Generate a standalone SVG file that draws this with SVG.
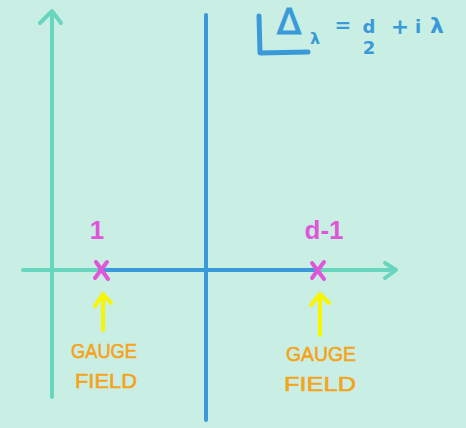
<svg xmlns="http://www.w3.org/2000/svg" width="466" height="428" viewBox="0 0 466 428">
<style>
.ax{stroke:#68d5bd;stroke-width:4;fill:none;stroke-linecap:round;stroke-linejoin:round}
.bl{stroke:#3a9ad9;stroke-width:4;fill:none;stroke-linecap:round}
.mx{stroke:#e056d8;stroke-width:4;fill:none;stroke-linecap:round}
.yl{stroke:#f7f500;stroke-width:4;fill:none;stroke-linecap:round;stroke-linejoin:round}
.lab{font-family:"Liberation Sans",Arial,sans-serif;fill:#f5a31a;font-size:21px;text-anchor:middle;stroke:#f5a31a;stroke-width:0.6}
.mg{font-family:"Liberation Sans",Arial,sans-serif;fill:#e056d8;font-size:26px;text-anchor:middle;font-weight:bold}
.fm{font-family:"DejaVu Sans",sans-serif;fill:#3a9ad9;font-weight:bold}
</style>
<rect width="466" height="428" fill="#c9efe5"/>
<g id="connectors">
<path class="ax" d="M52,397 V11 M40,23 L52,11 L61,23"/>
<path class="ax" d="M23,270 H100 M318,270 H396 M385,263 L396,270 L385,278"/>
<path class="bl" d="M100,270 H318"/>
<path class="bl" d="M206,15 V420"/>
<path class="yl" d="M103,330 V294 M95,306 L103,294 L111,303"/>
<path class="yl" d="M320,335 V294 M311,305 L320,294 L329,303"/>
</g>
<g id="x1"><path class="mx" d="M96,262 L108,279 M107,262 L95,278"/></g>
<g id="x2"><path class="mx" d="M312,263 L324,279 M324,262 L312,278"/></g>
<g id="label1"><text class="mg" x="97" y="239">1</text></g>
<g id="label2"><text class="mg" x="324" y="239">d-1</text></g>
<g id="gauge1"><text class="lab" x="104" y="358" textLength="66" lengthAdjust="spacingAndGlyphs">GAUGE</text><text class="lab" x="106" y="388" textLength="62" lengthAdjust="spacingAndGlyphs">FIELD</text></g>
<g id="gauge2"><text class="lab" x="321" y="361" textLength="70" lengthAdjust="spacingAndGlyphs">GAUGE</text><text class="lab" x="320" y="391" textLength="72" lengthAdjust="spacingAndGlyphs">FIELD</text></g>
<g id="formula">
<path d="M259,16 L260,53 L308,52" stroke="#3a9ad9" stroke-width="5" fill="none" stroke-linecap="round" stroke-linejoin="round"/>
<text x="289" y="34" font-size="36" text-anchor="middle" font-family="DejaVu Sans,sans-serif" fill="#3a9ad9" stroke="#3a9ad9" stroke-width="1">Δ</text>
<text class="fm" x="315" y="44" font-size="16" text-anchor="middle">λ</text>
<text class="fm" x="343" y="32" font-size="20" text-anchor="middle">=</text>
<text class="fm" x="369" y="33" font-size="18" text-anchor="middle">d</text>
<text class="fm" x="369" y="54" font-size="18" text-anchor="middle">2</text>
<text class="fm" x="400" y="34" font-size="22" text-anchor="middle">+</text>
<text class="fm" x="418" y="33" font-size="18" text-anchor="middle">i</text>
<text class="fm" x="437" y="33" font-size="22" text-anchor="middle">λ</text>
</g>
</svg>
